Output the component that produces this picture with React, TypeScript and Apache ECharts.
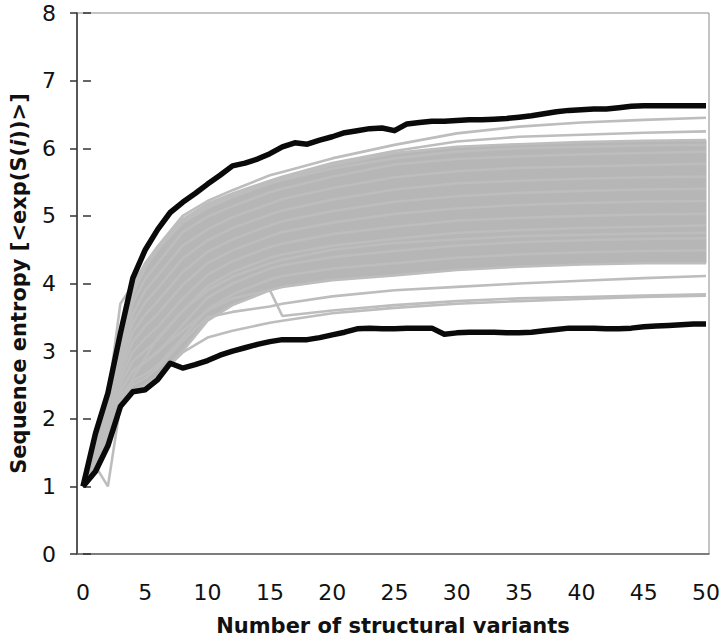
import React, { useEffect, useRef } from "react";
import * as echarts from "echarts";

// x positions (number of structural variants) for the gray curves
const X = [0, 1, 2, 3, 4, 5, 6, 8, 10, 12, 15, 16, 20, 25, 30, 35, 40, 45, 50];

// dense gray band (upper / lower edges)
const bandTop = [1, 1.7, 2.3, 3.1, 3.85, 4.25, 4.5, 4.95, 5.15, 5.3, 5.5, 5.56, 5.75, 5.93, 6.02, 6.06, 6.09, 6.11, 6.12];
const bandBot = [1, 1.28, 1.62, 2.25, 2.42, 2.48, 2.6, 3.0, 3.45, 3.68, 3.9, 3.95, 4.05, 4.12, 4.2, 4.25, 4.28, 4.3, 4.3];

// individual gray curves
const grayT1 = [1, 1.72, 2.32, 3.15, 3.9, 4.3, 4.55, 5.0, 5.22, 5.38, 5.6, 5.65, 5.85, 6.05, 6.22, 6.32, 6.38, 6.42, 6.45];
const grayT2 = [1, 1.7, 2.3, 3.1, 3.85, 4.25, 4.5, 4.95, 5.18, 5.33, 5.52, 5.58, 5.78, 5.96, 6.1, 6.17, 6.2, 6.23, 6.25];
const grayD = [1, 1.6, 2.3, 3.7, 3.98, 4.3, 4.5, 4.9, 5.12, 5.28, 5.48, 5.53, 5.7, 5.85, 5.95, 6.0, 6.02, 6.04, 6.05];
const grayE = [1, 1.3, 1.0, 2.2, 2.6, 2.9, 3.2, 3.6, 3.9, 4.1, 4.3, 4.35, 4.5, 4.6, 4.65, 4.7, 4.72, 4.74, 4.75];
const grayA = [1, 1.26, 1.62, 2.22, 2.42, 2.5, 2.62, 2.98, 3.2, 3.3, 3.42, 3.45, 3.56, 3.64, 3.7, 3.74, 3.77, 3.8, 3.82];
const grayB = [1, 1.3, 1.7, 2.3, 2.5, 2.6, 2.75, 3.15, 3.5, 3.58, 3.66, 3.7, 3.81, 3.9, 3.95, 4.0, 4.04, 4.08, 4.11];
const grayC = [1, 1.3, 1.75, 2.4, 2.7, 2.85, 3.0, 3.3, 3.6, 3.78, 3.9, 3.52, 3.6, 3.68, 3.74, 3.78, 3.8, 3.82, 3.84];
const grayM1 = [1, 1.66, 2.23, 3.02, 3.72, 4.07, 4.3, 4.76, 4.99, 5.14, 5.35, 5.4, 5.58, 5.76, 5.84, 5.88, 5.91, 5.93, 5.95];
const grayM2 = [1, 1.62, 2.16, 2.93, 3.55, 3.9, 4.12, 4.56, 4.8, 4.98, 5.18, 5.25, 5.41, 5.57, 5.66, 5.71, 5.73, 5.75, 5.77];
const grayM3 = [1, 1.57, 2.1, 2.85, 3.42, 3.72, 3.93, 4.37, 4.64, 4.82, 5.02, 5.08, 5.24, 5.39, 5.48, 5.52, 5.55, 5.57, 5.58];
const grayM4 = [1, 1.53, 2.03, 2.76, 3.28, 3.54, 3.74, 4.17, 4.47, 4.65, 4.86, 4.92, 5.07, 5.21, 5.29, 5.34, 5.37, 5.39, 5.4];
const grayM5 = [1, 1.49, 1.96, 2.68, 3.14, 3.37, 3.55, 3.98, 4.3, 4.49, 4.7, 4.76, 4.9, 5.03, 5.11, 5.16, 5.19, 5.21, 5.22];
const grayM6 = [1, 1.45, 1.89, 2.59, 2.99, 3.19, 3.36, 3.78, 4.13, 4.33, 4.54, 4.59, 4.73, 4.84, 4.93, 4.97, 5.0, 5.02, 5.03];
const grayM7 = [1, 1.41, 1.82, 2.51, 2.85, 3.01, 3.17, 3.59, 3.96, 4.17, 4.38, 4.43, 4.56, 4.66, 4.75, 4.79, 4.82, 4.84, 4.86];
const grayM8 = [1, 1.36, 1.76, 2.42, 2.71, 2.84, 2.98, 3.39, 3.79, 4.0, 4.22, 4.27, 4.39, 4.48, 4.56, 4.61, 4.64, 4.66, 4.67];
const grayM9 = [1, 1.32, 1.69, 2.34, 2.56, 2.66, 2.79, 3.2, 3.62, 3.84, 4.06, 4.11, 4.22, 4.3, 4.38, 4.43, 4.46, 4.48, 4.49];

const grayCurves = [grayT1, grayT2, grayD, grayE, grayA, grayB, grayC, grayM1, grayM2, grayM3, grayM4, grayM5, grayM6, grayM7, grayM8, grayM9, bandTop, bandBot];

// thick black envelope curves
const BLACK_X = [0, 1, 2, 3, 4, 5, 6, 7, 8, 9, 10, 11, 12, 13, 14, 15, 16, 17, 18, 19, 20, 21, 22, 23, 24, 25, 26, 27, 28, 29, 30, 31, 32, 33, 34, 35, 36, 37, 38, 39, 40, 41, 42, 43, 44, 45, 46, 47, 48, 49, 50];
const upperBlack = [1, 1.78, 2.38, 3.26, 4.08, 4.5, 4.8, 5.05, 5.2, 5.33, 5.47, 5.6, 5.74, 5.78, 5.84, 5.92, 6.02, 6.08, 6.06, 6.12, 6.17, 6.23, 6.26, 6.29, 6.3, 6.26, 6.36, 6.38, 6.4, 6.4, 6.41, 6.42, 6.42, 6.43, 6.44, 6.46, 6.48, 6.51, 6.54, 6.56, 6.57, 6.58, 6.58, 6.6, 6.62, 6.63, 6.63, 6.63, 6.63, 6.63, 6.63];
const lowerBlack = [1, 1.22, 1.6, 2.18, 2.4, 2.43, 2.58, 2.82, 2.75, 2.8, 2.86, 2.94, 3.0, 3.05, 3.1, 3.14, 3.17, 3.17, 3.17, 3.2, 3.24, 3.28, 3.33, 3.34, 3.33, 3.33, 3.34, 3.34, 3.34, 3.25, 3.27, 3.28, 3.28, 3.28, 3.27, 3.27, 3.28, 3.3, 3.32, 3.34, 3.34, 3.34, 3.33, 3.33, 3.34, 3.36, 3.37, 3.38, 3.39, 3.4, 3.4];

const X_TICKS = [0, 5, 10, 15, 20, 25, 30, 35, 40, 45, 50];

const BAND_GRAY = "#b6b6b6";
const LINE_GRAY = "#bdbdbd";
const FONT = "'DejaVu Sans', 'Liberation Sans', Arial, sans-serif";

function pairs(xs: number[], ys: number[]) {
  return xs.map((x, i) => [x, ys[i]]);
}

export default function App() {
  const ref = useRef<HTMLDivElement>(null);

  useEffect(() => {
    if (!ref.current) return;
    const chart = echarts.init(ref.current, null, { renderer: "svg" });

    const series: any[] = [
      {
        type: "custom",
        name: "band",
        silent: true,
        z: 1,
        clip: true,
        data: [[0, 1]],
        renderItem: (params: any, api: any) => {
          const pts: number[][] = [];
          for (let i = 0; i < X.length; i++) pts.push(api.coord([X[i], bandTop[i]]));
          for (let i = X.length - 1; i >= 0; i--) pts.push(api.coord([X[i], bandBot[i]]));
          return {
            type: "polygon",
            shape: { points: pts },
            style: { fill: BAND_GRAY, stroke: BAND_GRAY, lineWidth: 1 },
          };
        },
      },
    ];

    grayCurves.forEach((c, i) => {
      series.push({
        type: "line",
        name: "gray" + i,
        data: pairs(X, c),
        symbol: "none",
        lineStyle: { color: LINE_GRAY, width: 2.6 },
        silent: true,
        z: 2,
      });
    });

    series.push(
      {
        type: "line",
        name: "upper",
        data: pairs(BLACK_X, upperBlack),
        symbol: "none",
        lineStyle: { color: "#0a0a0a", width: 5.5, join: "round" },
        silent: true,
        z: 5,
      },
      {
        type: "line",
        name: "lower",
        data: pairs(BLACK_X, lowerBlack),
        symbol: "none",
        lineStyle: { color: "#0a0a0a", width: 5.5, join: "round" },
        silent: true,
        z: 5,
      }
    );

    chart.setOption({
      animation: false,
      backgroundColor: "#ffffff",
      grid: {
        left: 77,
        right: 11,
        top: 13,
        bottom: 84,
        show: true,
        borderColor: "#8a8a8a",
        borderWidth: 1,
        containLabel: false,
        outerBoundsMode: "none",
      },
      xAxis: {
        type: "value",
        min: -0.48,
        max: 50.24,
        axisLine: { show: true, onZero: false, lineStyle: { color: "#666", width: 1.5 } },
        axisTick: { show: false },
        splitLine: { show: false },
        axisLabel: {
          customValues: X_TICKS,
          color: "#111",
          fontFamily: FONT,
          fontSize: 22,
          margin: 27,
        },
        name: "Number of structural variants",
        nameLocation: "middle",
        nameGap: 61,
        nameTextStyle: { color: "#111", fontFamily: FONT, fontSize: 21, fontWeight: "bold" },
      },
      yAxis: [
        {
          type: "value",
          min: 0,
          max: 8,
          interval: 1,
          axisLine: { show: true, onZero: false, lineStyle: { color: "#333", width: 1.5 } },
          axisTick: { show: true, length: 7, lineStyle: { color: "#333", width: 1.5 } },
          splitLine: { show: false },
          axisLabel: { color: "#111", fontFamily: FONT, fontSize: 22, margin: 21 },
          name: "Sequence entropy [<exp(S({i|i}))>]",
          nameLocation: "middle",
          nameGap: 48,
          nameRotate: 90,
          nameTextStyle: {
            color: "#111",
            fontFamily: FONT,
            fontSize: 21,
            fontWeight: "bold",
            rich: {
              i: { fontFamily: FONT, fontSize: 21, fontWeight: "bold", fontStyle: "italic", color: "#111" },
            },
          },
        },
        {
          type: "value",
          min: 0,
          max: 8,
          interval: 1,
          position: "left",
          axisLine: { show: false },
          axisTick: { show: true, inside: true, length: 8, lineStyle: { color: "#333", width: 1.5 } },
          splitLine: { show: false },
          axisLabel: { show: false },
        },
      ],
      series,
    });

    return () => chart.dispose();
  }, []);

  return (
    <div
      ref={ref}
      style={{ position: "fixed", left: 0, top: 0, width: 720, height: 638 }}
    />
  );
}
